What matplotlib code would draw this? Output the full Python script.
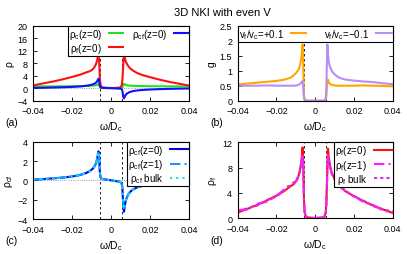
#!/usr/bin/env python3

import matplotlib
matplotlib.use('Agg')
import matplotlib.pyplot as plt

plt.rcParams['font.family'] = ['Liberation Sans', 'DejaVu Sans']
plt.rcParams['mathtext.fontset'] = 'custom'
plt.rcParams['mathtext.rm'] = 'Liberation Sans'
plt.rcParams['mathtext.it'] = 'Liberation Sans:italic'

# common frequency grid omega/D_c
omega = [-0.040, -0.035, -0.030, -0.025, -0.020, -0.016, -0.013, -0.011, -0.0095, -0.0085,
         -0.0078, -0.0072, -0.0068, -0.0065, -0.0062, -0.0060, -0.0058, -0.0055, -0.0050,
         -0.0040, -0.0020, 0.0, 0.0020, 0.0040, 0.0050, 0.0055, 0.0058, 0.0060, 0.0063,
         0.0066, 0.0070, 0.0075, 0.0082, 0.0090, 0.0100, 0.0115, 0.0135, 0.0160, 0.0200,
         0.0250, 0.0300, 0.0350, 0.0400]

rho_c_z0 = [0.55, 0.56, 0.58, 0.60, 0.62, 0.66, 0.70, 0.75, 0.80, 0.85,
            0.92, 1.05, 1.25, 1.35, 1.10, 0.70, 0.35, 0.12, 0.04,
            0.02, 0.01, 0.01, 0.01, 0.02, 0.04, 0.12, 0.30, 0.60, 1.10,
            1.40, 1.20, 1.05, 0.92, 0.85, 0.80, 0.75, 0.70, 0.66, 0.62,
            0.60, 0.58, 0.56, 0.55]

rho_f_z0 = [0.9, 1.5, 2.1, 2.8, 3.6, 4.3, 5.0, 5.4, 6.0, 6.8,
            7.7, 8.9, 10.2, 11.2, 9.0, 6.0, 3.2, 1.2, 0.4,
            0.15, 0.08, 0.06, 0.08, 0.15, 0.4, 1.1, 2.8, 5.0, 8.5,
            11.0, 9.7, 8.6, 7.6, 6.9, 6.2, 5.5, 4.8, 4.2, 3.5,
            2.7, 2.0, 1.4, 0.85]

rho_f_z1 = [1.3, 1.4, 2.3, 2.6, 3.5, 4.6, 5.3, 5.5, 6.1, 6.9,
            7.6, 8.4, 9.5, 10.2, 8.6, 5.8, 3.0, 1.1, 0.35,
            0.12, 0.07, 0.05, 0.07, 0.12, 0.35, 1.0, 2.6, 4.7, 8.0,
            10.0, 9.2, 8.4, 7.4, 6.7, 6.3, 5.4, 5.0, 4.1, 3.6,
            2.5, 2.1, 1.2, 1.0]

rho_f_bulk = [1.1, 1.6, 2.0, 2.9, 3.4, 4.4, 5.2, 5.7, 6.0, 6.8,
              7.5, 8.2, 9.0, 9.6, 8.3, 5.6, 2.9, 1.0, 0.3,
              0.1, 0.06, 0.05, 0.06, 0.1, 0.3, 0.9, 2.5, 4.5, 7.7,
              9.5, 9.0, 8.2, 7.3, 6.8, 6.1, 5.6, 4.9, 4.3, 3.4,
              2.8, 1.9, 1.4, 1.1]

rho_cf_z0 = [0.08, 0.13, 0.20, 0.28, 0.40, 0.55, 0.75, 0.95, 1.20, 1.45,
             1.75, 2.20, 2.70, 3.00, 2.50, 1.60, 0.80, 0.35, 0.18,
             0.12, 0.06, 0.0, -0.06, -0.13, -0.20, -0.40, -0.90, -1.80, -2.80,
             -3.25, -2.70, -2.10, -1.70, -1.40, -1.15, -0.90, -0.72, -0.57, -0.43,
             -0.30, -0.22, -0.15, -0.10]

rho_cf_z1 = [0.09, 0.14, 0.21, 0.29, 0.41, 0.56, 0.76, 0.97, 1.22, 1.48,
             1.80, 2.25, 2.78, 3.10, 2.55, 1.62, 0.82, 0.36, 0.18,
             0.12, 0.06, 0.0, -0.06, -0.13, -0.20, -0.40, -0.88, -1.75, -2.70,
             -3.10, -2.62, -2.05, -1.68, -1.38, -1.13, -0.89, -0.71, -0.56, -0.42,
             -0.30, -0.21, -0.15, -0.10]

rho_cf_bulk = [0.08, 0.13, 0.20, 0.28, 0.40, 0.55, 0.74, 0.94, 1.19, 1.44,
               1.73, 2.17, 2.66, 2.95, 2.46, 1.58, 0.79, 0.35, 0.18,
               0.12, 0.06, 0.0, -0.06, -0.13, -0.20, -0.40, -0.88, -1.76, -2.72,
               -3.00, -2.64, -2.07, -1.68, -1.39, -1.14, -0.90, -0.72, -0.57, -0.43,
               -0.30, -0.22, -0.15, -0.10]

g_plus = [0.54, 0.57, 0.60, 0.63, 0.66, 0.70, 0.76, 0.85, 0.95, 1.05,
          1.20, 1.40, 1.65, 1.88, 1.30, 0.60, 0.20, 0.05, 0.01,
          0.0, 0.0, 0.0, 0.0, 0.0, 0.01, 0.05, 0.20, 0.45, 0.65,
          0.70, 0.62, 0.57, 0.54, 0.52, 0.51, 0.50, 0.50, 0.50, 0.50,
          0.51, 0.50, 0.49, 0.48]

g_minus = [0.50, 0.50, 0.50, 0.51, 0.50, 0.50, 0.50, 0.50, 0.51, 0.53,
           0.56, 0.60, 0.64, 0.65, 0.50, 0.25, 0.10, 0.03, 0.01,
           0.0, 0.0, 0.0, 0.0, 0.0, 0.01, 0.10, 0.50, 1.20, 1.87,
           1.55, 1.30, 1.15, 1.05, 0.95, 0.88, 0.80, 0.74, 0.70, 0.67,
           0.64, 0.62, 0.58, 0.55]

gap_edges = [-0.0058, 0.0058]
xticks = [-0.04, -0.02, 0.0, 0.02, 0.04]
xticklabels = ['\u22120.04', '\u22120.02', '0', '0.02', '0.04']

W, H = 407, 255
TICK = 6.5
LEG = 7


def make_axes(fig, left, right, top, bottom):
    ax = fig.add_axes([left / W, 1 - bottom / H, (right - left) / W, (bottom - top) / H])
    ax.tick_params(direction='in', length=3, width=0.6, labelsize=TICK,
                   top=True, right=True, pad=4)
    for s in ax.spines.values():
        s.set_linewidth(0.8)
    ax.set_xlim(-0.04, 0.04)
    ax.set_xticks(xticks)
    ax.set_xticklabels(xticklabels)
    for e in gap_edges:
        ax.axvline(e, color='black', ls=(0, (3, 3)), lw=0.6, zorder=1)
    ax.set_xlabel('\u03c9/D$_\\mathrm{c}$', fontsize=7.5, labelpad=3)
    return ax


def legend(ax, **kw):
    leg = ax.legend(fontsize=LEG, markerfirst=False, fancybox=False, framealpha=1,
                    edgecolor='black', borderaxespad=0, handletextpad=0.7,
                    labelspacing=0.02, borderpad=0.12, **kw)
    leg.get_frame().set_linewidth(0.8)
    return leg


fig = plt.figure(figsize=(W / 100, H / 100), dpi=100)
fig.text(222 / W, 1 - 12.5 / H, '3D NKI with even V', fontsize=8, ha='center', va='center')

# (a)
ax = make_axes(fig, 33.3, 189, 26.5, 101.7)
ax.axhline(0, color='gray', ls=':', lw=0.6, zorder=1)
ax.plot(omega, rho_c_z0, color='#22e022', lw=1.5, label='\u03c1$_\\mathrm{c}$(z=0)')
ax.plot(omega, rho_f_z0, color='#ff1010', lw=1.5, label='\u03c1$_\\mathrm{f}$(z=0)')
ax.plot(omega, rho_cf_z0, color='#1010ff', lw=1.5, label='\u03c1$_\\mathrm{cf}$(z=0)')
ax.set_ylim(-4, 20)
ax.set_yticks([-4, 0, 4, 8, 12, 16, 20])
ax.set_yticklabels(['\u22124', '0', '4', '8', '12', '16', '20'])
ax.set_ylabel('\u03c1', fontsize=7.5, labelpad=2)
legend(ax, loc='upper right', ncol=2, handlelength=1.4, columnspacing=1.0)

# (b)
ax = make_axes(fig, 237.7, 392.7, 26.7, 101.7)
ax.plot(omega, g_plus, color='#ffa500', lw=1.5, label='v$_\\mathrm{f}$/v$_\\mathrm{c}$=+0.1')
ax.plot(omega, g_minus, color='#b98cf8', lw=1.5, label='v$_\\mathrm{f}$/v$_\\mathrm{c}$=\u22120.1')
ax.set_ylim(0, 2.5)
ax.set_yticks([0, 0.5, 1, 1.5, 2, 2.5])
ax.set_yticklabels(['0', '0.5', '1', '1.5', '2', '2.5'])
ax.set_ylabel('g', fontsize=7.5, labelpad=2)
legend(ax, loc='upper left', ncol=2, mode='expand', bbox_to_anchor=(0, 0, 1, 1),
       handlelength=1.6)

# (c)
ax = make_axes(fig, 33.3, 189, 142.7, 220)
ax.axhline(0, color='gray', ls=':', lw=0.6, zorder=1)
ax.plot(omega, rho_cf_z0, color='#0000e0', lw=1.5, label='\u03c1$_\\mathrm{cf}$(z=0)')
ax.plot(omega, rho_cf_z1, color='#2090ff', lw=1.5, ls=(0, (5, 2, 1, 2)),
        label='\u03c1$_\\mathrm{cf}$(z=1)')
ax.plot(omega, rho_cf_bulk, color='#00e8e8', lw=1.5, ls=(0, (1, 2)),
        label='\u03c1$_\\mathrm{cf}$ bulk')
ax.set_ylim(-4, 4)
ax.set_yticks([-4, -2, 0, 2, 4])
ax.set_yticklabels(['\u22124', '\u22122', '0', '2', '4'])
ax.set_ylabel('\u03c1$_\\mathrm{cf}$', fontsize=7.5, labelpad=2)
legend(ax, loc='upper right', handlelength=1.8)

# (d)
ax = make_axes(fig, 237.7, 392.7, 143.3, 219.3)
ax.plot(omega, rho_f_z0, color='#ff1010', lw=1.5, label='\u03c1$_\\mathrm{f}$(z=0)')
ax.plot(omega, rho_f_z1, color='#ff20ff', lw=1.5, ls=(0, (5, 2, 1, 2)),
        label='\u03c1$_\\mathrm{f}$(z=1)')
ax.plot(omega, rho_f_bulk, color='#d030f0', lw=1.5, ls=(0, (1.5, 1.5)),
        label='\u03c1$_\\mathrm{f}$ bulk')
ax.set_ylim(0, 12)
ax.set_yticks([0, 4, 8, 12])
ax.set_ylabel('\u03c1$_\\mathrm{f}$', fontsize=7.5, labelpad=2)
legend(ax, loc='upper right', handlelength=1.8)

for lab, x, y in [('(a)', 12, 123), ('(b)', 217, 123), ('(c)', 12, 241), ('(d)', 217, 241)]:
    fig.text(x / W, 1 - y / H, lab, fontsize=7.5, ha='center', va='center')

fig.savefig('out.png', dpi=100)
